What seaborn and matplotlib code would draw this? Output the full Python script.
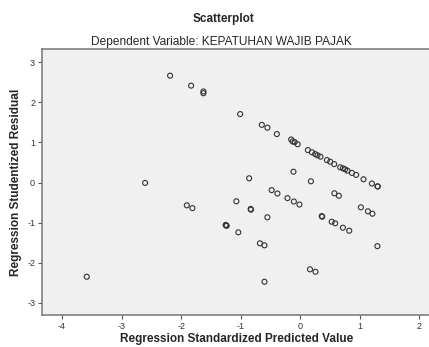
import numpy as np
import pandas as pd
import seaborn as sns
import matplotlib.pyplot as plt

# Regression Standardized Predicted Value
predicted = [
    -3.585, -2.605, -2.185, -1.832, -1.625, -1.625, -1.904, -1.810,
    -1.008, -0.644, -0.550, -0.392, -0.151, -0.126, -0.092, -0.042,
    0.129, 0.197, 0.252, 0.291, 0.341, 0.449, 0.504, 0.571,
    0.672, 0.718, 0.756, 0.795, 0.869, 0.941, 1.064, 1.205,
    1.299, 1.304, -0.857, -0.113, 0.180, -0.479, -0.382, -0.213,
    -0.106, -0.012, 0.575, 0.650, -1.072, -0.832, -0.827, -1.252,
    -1.244, -1.235, -0.551, -1.039, -0.676, -0.600, -0.600, 0.363,
    0.370, 0.529, 0.588, 0.718, 0.824, 1.020, 1.138, 1.213,
    1.297, 0.165, 0.257,
]

# Regression Studentized Residual
residual = [
    -2.355, -0.01, 2.67, 2.42, 2.275, 2.23, -0.57, -0.64,
    1.71, 1.44, 1.37, 1.21, 1.075, 1.025, 1.01, 0.955,
    0.81, 0.755, 0.71, 0.68, 0.645, 0.56, 0.52, 0.46,
    0.38, 0.355, 0.33, 0.295, 0.24, 0.19, 0.08, -0.025,
    -0.095, -0.10, 0.105, 0.27, 0.03, -0.19, -0.275, -0.39,
    -0.475, -0.55, -0.27, -0.33, -0.47, -0.66, -0.68, -1.06,
    -1.075, -1.08, -0.87, -1.245, -1.52, -1.57, -2.48, -0.84,
    -0.855, -0.98, -1.02, -1.13, -1.205, -0.62, -0.72, -0.78,
    -1.59, -2.17, -2.23,
]

x_ticks = [-4, -3, -2, -1, 0, 1, 2]
y_ticks = [-3, -2, -1, 0, 1, 2, 3]

df = pd.DataFrame({"predicted": predicted, "residual": residual})

sns.set_style("ticks", {"axes.facecolor": "#f0f0f0", "axes.edgecolor": "#808080"})
plt.rcParams["font.family"] = ["Liberation Sans", "DejaVu Sans"]
plt.rcParams["axes.unicode_minus"] = False

fig = plt.figure(figsize=(4.29, 3.47), dpi=100)
ax = fig.add_axes([0.098, 0.092, 0.907, 0.767])

sns.scatterplot(data=df, x="predicted", y="residual", ax=ax, marker="o",
                s=13, facecolors="none", edgecolor="#333333", linewidth=0.8)
ax.collections[0].set_facecolor("none")

ax.set_xlim(-4.336, 2.20)
ax.set_ylim(-3.3125, 3.3375)
ax.set_xticks(x_ticks)
ax.set_yticks(y_ticks)
ax.tick_params(axis="both", labelsize=6.5, length=3, width=0.8,
               color="#555555", labelcolor="#333333", pad=2)
for side in ["left", "bottom", "top"]:
    ax.spines[side].set_visible(True)
    ax.spines[side].set_color("#808080")
    ax.spines[side].set_linewidth(1.2)
ax.spines["right"].set_visible(False)

ax.set_xlabel("Regression Standardized Predicted Value", fontsize=8.5,
              fontweight="bold", labelpad=1.5)
ax.set_ylabel("Regression Studentized Residual", fontsize=8.5,
              fontweight="bold", labelpad=4)

fig.text(0.522, 0.945, "Scatterplot", ha="center", va="center",
         fontsize=8.5, fontweight="bold")
fig.text(0.517, 0.878, "Dependent Variable: KEPATUHAN WAJIB PAJAK",
         ha="center", va="center", fontsize=8.6)

fig.savefig("out.png", dpi=100)
